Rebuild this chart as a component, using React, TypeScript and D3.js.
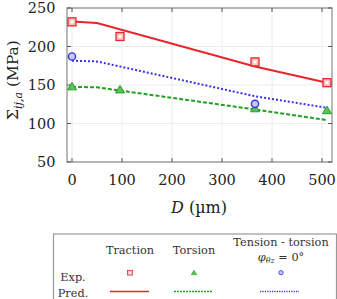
import * as d3 from "d3";

// grain size D (µm) and stress amplitudes (MPa)
const expTractionD = [0, 96, 366, 510];
const expTraction = [232, 213, 180, 153];
const expTorsionD = [0, 96, 366, 510];
const expTorsion = [148, 144, 119.5, 117];
const expTensTorsD = [0, 366];
const expTensTors = [187, 125.5];

const predD = [0, 50, 366, 510];
const predTraction = [232.5, 230.5, 174, 153];
const predTorsion = [147.5, 147, 118.2, 104.4];
const predTensTors = [181.5, 180.6, 135.4, 120.4];

const xTicks = [0, 100, 200, 300, 400, 500];
const yTicks = [50, 100, 150, 200, 250];

const W = 337;
const H = 299;
const plot = { left: 67, right: 332, top: 8, bottom: 162 };

const x = d3.scaleLinear().domain([-10, 520]).range([plot.left, plot.right]);
const y = d3.scaleLinear().domain([50, 250]).range([plot.bottom, plot.top]);

const RED = "#e8262a";
const GREEN = "#22a022";
const BLUE = "#3434e0";

const serif = "'DejaVu Serif', 'Times New Roman', Times, serif";

const line = d3
  .line<[number, number]>()
  .x((d) => x(d[0]))
  .y((d) => y(d[1]));

const pts = (xs: number[], ys: number[]) =>
  xs.map((v, i) => [v, ys[i]] as [number, number]);

const Square = ({ cx, cy }: { cx: number; cy: number }) => (
  <g>
    <rect x={cx - 4} y={cy - 4} width={8} height={8} fill="#f6c0c0" stroke={RED} strokeWidth={1.3} />
    <rect x={cx - 1.5} y={cy - 1.5} width={3} height={3} fill="#fff" />
  </g>
);

const Tri = ({ cx, cy }: { cx: number; cy: number }) => (
  <path
    d={`M${cx},${cy - 4.2}L${cx + 4.5},${cy + 3.3}L${cx - 4.5},${cy + 3.3}Z`}
    fill="#5cc05c"
    stroke={GREEN}
    strokeWidth={1}
  />
);

const Circ = ({ cx, cy }: { cx: number; cy: number }) => (
  <circle cx={cx} cy={cy} r={3.6} fill="#c8c8f8" stroke={BLUE} strokeWidth={1.4} />
);

export default function App() {
  return (
    <div style={{ position: "absolute", left: 0, top: 0, fontFamily: serif }}>
      <svg width={W} height={H} style={{ display: "block", background: "#fff" }}>
        {/* grid */}
        {xTicks.map((t) => (
          <line key={"gx" + t} x1={x(t)} x2={x(t)} y1={plot.top} y2={plot.bottom} stroke="#ececec" strokeWidth={1} />
        ))}
        {yTicks.map((t) => (
          <line key={"gy" + t} x1={plot.left} x2={plot.right} y1={y(t)} y2={y(t)} stroke="#ececec" strokeWidth={1} />
        ))}

        {/* frame */}
        <rect
          x={plot.left}
          y={plot.top}
          width={plot.right - plot.left}
          height={plot.bottom - plot.top}
          fill="none"
          stroke="#8a8a8a"
          strokeWidth={1.2}
        />

        {/* inward ticks on all four sides */}
        {xTicks.map((t) => (
          <g key={"tx" + t} stroke="#555" strokeWidth={1}>
            <line x1={x(t)} x2={x(t)} y1={plot.bottom} y2={plot.bottom - 4} />
            <line x1={x(t)} x2={x(t)} y1={plot.top} y2={plot.top + 4} />
          </g>
        ))}
        {yTicks.map((t) => (
          <g key={"ty" + t} stroke="#555" strokeWidth={1}>
            <line x1={plot.left} x2={plot.left + 4} y1={y(t)} y2={y(t)} />
            <line x1={plot.right} x2={plot.right - 4} y1={y(t)} y2={y(t)} />
          </g>
        ))}

        <g fontFamily={serif} fill="#222">
          {/* tick labels */}
          {xTicks.map((t) => (
            <text key={"lx" + t} x={x(t)} y={185} textAnchor="middle" fontSize={14.5}>
              {t}
            </text>
          ))}
          {yTicks.map((t) => (
            <text key={"ly" + t} x={55.5} y={y(t) + 5} textAnchor="end" fontSize={14.5}>
              {t}
            </text>
          ))}

          {/* axis titles */}
          <text x={199} y={213} textAnchor="middle" fontSize={16}>
            <tspan fontStyle="italic">D</tspan> (µm)
          </text>
          <text transform="translate(18,80) rotate(-90)" textAnchor="middle" fontSize={15.5}>
            Σ<tspan fontStyle="italic" fontSize={11} dy={4}>ij,a</tspan>
            <tspan dy={-4}> (MPa)</tspan>
          </text>
        </g>

        {/* predictions */}
        <path d={line(pts(predD, predTraction)) ?? ""} fill="none" stroke={RED} strokeWidth={2} />
        <path d={line(pts(predD, predTorsion)) ?? ""} fill="none" stroke={GREEN} strokeWidth={2} strokeDasharray="4,2" />
        <path d={line(pts(predD, predTensTors)) ?? ""} fill="none" stroke={BLUE} strokeWidth={2} strokeDasharray="2,2" />

        {/* experiments */}
        {expTractionD.map((d, i) => (
          <Square key={"s" + i} cx={x(d)} cy={y(expTraction[i])} />
        ))}
        {expTorsionD.map((d, i) => (
          <Tri key={"t" + i} cx={x(d)} cy={y(expTorsion[i])} />
        ))}
        {expTensTorsD.map((d, i) => (
          <Circ key={"c" + i} cx={x(d)} cy={y(expTensTors[i])} />
        ))}

        {/* legend */}
        <g>
          <rect x={53.5} y={234} width={283} height={80} fill="#fff" stroke="#999" strokeWidth={1.2} />
          <g fontFamily={serif} fontSize={11.3} fill="#333" textAnchor="middle">
            <text x={130} y={253.5}>Traction</text>
            <text x={194} y={253.5}>Torsion</text>
            <text x={281} y={246}>Tension - torsion</text>
            <text x={281} y={261}>
              <tspan fontStyle="italic">φ</tspan>
              <tspan fontStyle="italic" fontSize={8} dy={2}>θz</tspan>
              <tspan dy={-2}> = 0°</tspan>
            </text>
            <text x={73} y={281}>Exp.</text>
            <text x={73} y={296.5}>Pred.</text>
          </g>
          <g transform="translate(130,272.7) scale(0.6) translate(-130,-272.7)">
            <Square cx={130} cy={272.7} />
          </g>
          <g transform="translate(194,272.7) scale(0.6) translate(-194,-272.7)">
            <Tri cx={194} cy={272.7} />
          </g>
          <g transform="translate(281,272.7) scale(0.6) translate(-281,-272.7)">
            <Circ cx={281} cy={272.7} />
          </g>
          <line x1={110} x2={149} y1={291.5} y2={291.5} stroke={RED} strokeWidth={1.6} />
          <line x1={174} x2={213} y1={291.5} y2={291.5} stroke={GREEN} strokeWidth={1.4} strokeDasharray="2,1" />
          <line x1={260} x2={299} y1={291.5} y2={291.5} stroke={BLUE} strokeWidth={1.4} strokeDasharray="1.2,1.2" />
        </g>
      </svg>
    </div>
  );
}
